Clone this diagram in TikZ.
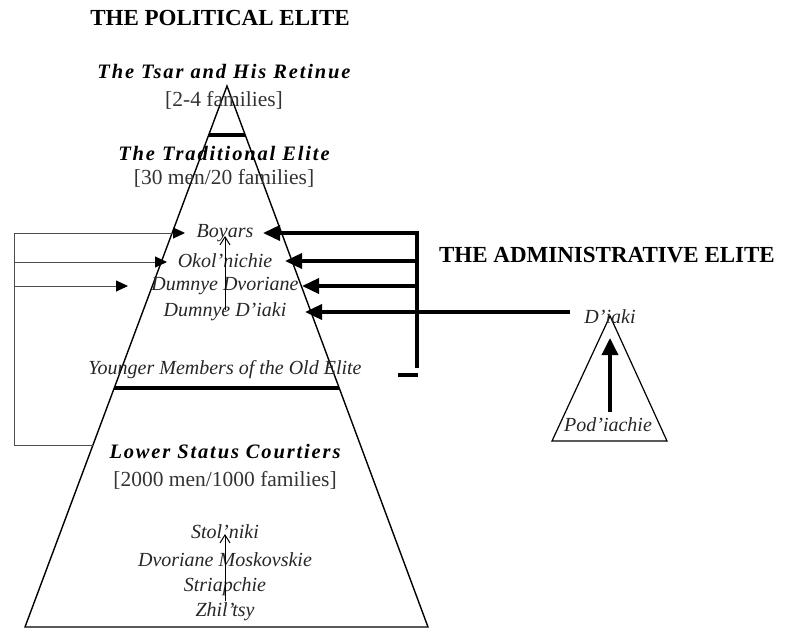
\documentclass[tikz,border=0pt]{standalone}
\usepackage{fontspec}
\setmainfont{Liberation Serif}
\newfontfamily\fancyfont[LetterSpace=9]{Liberation Serif}
\usetikzlibrary{arrows.meta,calc}
\begin{document}
\begin{tikzpicture}[x=1pt,y=-1pt,
  every node/.style={inner sep=0pt,anchor=center},
  capt/.style={font=\fontsize{23}{26}\selectfont\bfseries},
  fancy/.style={font=\fontsize{20.5}{24}\fancyfont\bfseries\itshape},
  count/.style={font=\fontsize{21.5}{24}\selectfont, text=black!80},
  rank/.style={font=\fontsize{20}{22}\selectfont\itshape, text=black!85},
  pyr/.style={line width=1.4pt},
  bar/.style={line width=4pt},
  thickarr/.style={line width=3.5pt,-{Triangle[length=17pt,width=15pt]}},
  thickln/.style={line width=3.5pt},
  thinarr/.style={line width=0.9pt,draw=black!70,-{Triangle[length=12pt,width=11pt,fill=black,color=black]}},
  thinln/.style={line width=0.9pt,draw=black!70},
  uparr/.style={line width=1pt,-{Straight Barb[length=8pt,width=10pt]}}
]
\useasboundingbox (0,0) rectangle (792,629);

% main pyramid
\coordinate (apex) at (227,86);
\coordinate (bl) at (25,627);
\coordinate (br) at (428,627);
\draw[pyr] (bl) -- (apex) -- (br) -- cycle;
\draw[bar] (208.7,135) -- (245.2,135);
\draw[bar] (114.2,388) -- (339.2,388);

% small pyramid
\coordinate (sapex) at (610,316);
\coordinate (sbl) at (552,441);
\coordinate (sbr) at (667,441);
\draw[line width=1.2pt] (sbl) -- (sapex) -- (sbr) -- cycle;

% texts
\node[capt] (polt) at (220,18) {THE POLITICAL ELITE};
\node[capt] (admt) at (607,255) {THE ADMINISTRATIVE ELITE};
\node[fancy] (tsar) at (224,72) {The Tsar and His Retinue};
\node[count] (tsarn) at (224,100) {[2-4 families]};
\node[fancy] (trad) at (224,153) {The Traditional Elite};
\node[count] (tradn) at (224,178) {[30 men/20 families]};
\node[rank] (boy) at (225,233) {Boyars};
\node[rank] (oko) at (225,261) {Okol’nichie};
\node[rank] (dd) at (225,286) {Dumnye Dvoriane};
\node[rank] (ddi) at (225,312) {Dumnye D’iaki};
\node[rank] (young) at (225,370) {Younger Members of the Old Elite};
\node[fancy] (low) at (225,452) {Lower Status Courtiers};
\node[count] (lown) at (225,480) {[2000 men/1000 families]};
\node[rank] (stol) at (225,532) {Stol’niki};
\node[rank] (dm) at (225,560) {Dvoriane Moskovskie};
\node[rank] (str) at (225,587) {Striapchie};
\node[rank] (zh) at (225,612) {Zhil’tsy};
\node[rank] (diaki) at (610,317) {D’iaki};
\node[rank] (pod) at (608,425) {Pod’iachie};

% inner upward arrows
\coordinate (u1s) at (225,310);
\coordinate (u1e) at (225,236);
\draw[uparr] (u1s) -- (u1e);
\coordinate (u2s) at (225,601);
\coordinate (u2e) at (225,534);
\draw[uparr] (u2s) -- (u2e);

% small pyramid arrow
\coordinate (p1) at (610,412);
\coordinate (p2) at (610,338);
\draw[line width=3.5pt,-{Triangle[length=17pt,width=16pt]}] (p1) -- (p2);

% left bracket
\coordinate (L1) at (14,233);
\coordinate (L2) at (14,262);
\coordinate (L3) at (14,286);
\coordinate (L4) at (14,445);
\coordinate (L5) at (93,445);
\coordinate (T1) at (185,233);
\coordinate (T2) at (167,262);
\coordinate (T3) at (128,286);
\draw[thinln] (L1) -- (L4) -- (L5);
\draw[thinarr] (L1) -- (T1);
\draw[thinarr] (L2) -- (T2);
\draw[thinarr] (L3) -- (T3);

% right bracket
\coordinate (R1) at (417,233);
\coordinate (R2) at (417,261);
\coordinate (R3) at (417,286);
\coordinate (R4) at (417,312);
\coordinate (R5) at (417,368);
\coordinate (S1) at (263,233);
\coordinate (S2) at (285,261);
\coordinate (S3) at (302,286);
\coordinate (S4) at (305,312);
\coordinate (D1) at (570,312);
\draw[thickln] ($(R1)+(0,-1.75)$) -- (R5);
\draw[thickarr] (R1) -- (S1);
\draw[thickarr] (R2) -- (S2);
\draw[thickarr] (R3) -- (S3);
\draw[thickarr] (D1) -- (S4);
\coordinate (M1) at (398,375);
\coordinate (M2) at (418,375);
\draw[thickln] (M1) -- (M2);
\end{tikzpicture}
\end{document}
